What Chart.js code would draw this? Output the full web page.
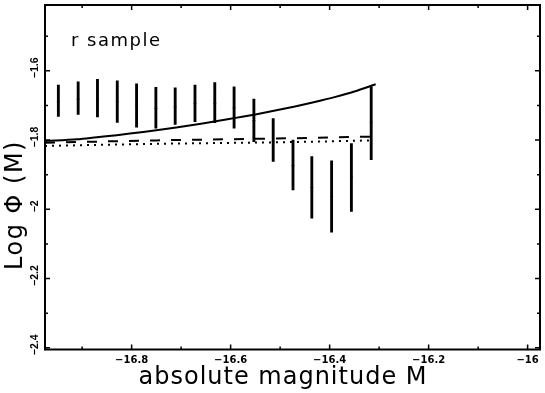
<!DOCTYPE html>
<html>
<head>
<meta charset="utf-8">
<script src="https://cdn.jsdelivr.net/npm/chart.js@4/dist/chart.umd.min.js"></script>
<style>
  html, body { margin: 0; padding: 0; background: #fff; }
  #wrap { width: 545px; height: 393px; }
</style>
</head>
<body>
<div id="wrap"><canvas id="lf"></canvas></div>
<script>
// axis ticks
const X_TICKS = [-16.8, -16.6, -16.4, -16.2, -16];
const X_MINOR = [-16.9, -16.7, -16.5, -16.3, -16.1];
const Y_TICKS = [-2.4, -2.2, -2, -1.8, -1.6];
const Y_MINOR = [-2.3, -2.1, -1.9, -1.7, -1.5];

// data points with error bars
const ERR_X = [-16.948, -16.908, -16.869, -16.829, -16.790, -16.751, -16.712, -16.672, -16.632,
               -16.593, -16.553, -16.514, -16.474, -16.436, -16.396, -16.356, -16.316];
const ERR_MID = [-1.689, -1.682, -1.682, -1.689, -1.701, -1.709, -1.704, -1.694, -1.694,
                 -1.707, -1.744, -1.805, -1.874, -1.937, -1.963, -1.907, -1.749];
const ERR_LO = [-1.732, -1.726, -1.733, -1.749, -1.763, -1.766, -1.755, -1.747, -1.750,
                -1.766, -1.805, -1.862, -1.944, -2.026, -2.066, -2.006, -1.857];
const ERR_HI = [-1.641, -1.632, -1.625, -1.629, -1.638, -1.648, -1.649, -1.641, -1.634,
                -1.646, -1.682, -1.738, -1.800, -1.848, -1.860, -1.810, -1.646];

// model curves
const FIT_X = [-16.975, -16.91, -16.87, -16.83, -16.79, -16.75, -16.71, -16.67, -16.63,
               -16.59, -16.55, -16.51, -16.47, -16.43, -16.39, -16.35, -16.307];
const FIT_Y = [-1.803, -1.798, -1.792, -1.786, -1.779, -1.772, -1.764, -1.755, -1.746,
               -1.736, -1.726, -1.715, -1.703, -1.690, -1.676, -1.660, -1.639];
const DASH_X = [-16.975, -16.75, -16.48, -16.312];
const DASH_Y = [-1.808, -1.801, -1.795, -1.790];
const DOT_X = [-16.975, -16.75, -16.48, -16.312];
const DOT_Y = [-1.817, -1.811, -1.806, -1.801];

const pts = (xs, ys) => xs.map((x, i) => ({ x, y: ys[i] }));
const fmt = v => String(v).replace('-', '\u2212');

const framePlugin = {
  id: 'frame',
  afterDraw(chart) {
    const { ctx, chartArea: a, scales: { x, y } } = chart;
    ctx.save();
    ctx.strokeStyle = '#000';
    ctx.lineWidth = 2;
    ctx.strokeRect(a.left, a.top, a.right - a.left, a.bottom - a.top);

    // inward tick marks on all four sides
    ctx.lineWidth = 1.5;
    ctx.beginPath();
    const xt = (v, len) => {
      const px = x.getPixelForValue(v);
      ctx.moveTo(px, a.bottom); ctx.lineTo(px, a.bottom - len);
      ctx.moveTo(px, a.top); ctx.lineTo(px, a.top + len);
    };
    const yt = (v, len) => {
      const py = y.getPixelForValue(v);
      ctx.moveTo(a.left, py); ctx.lineTo(a.left + len, py);
      ctx.moveTo(a.right, py); ctx.lineTo(a.right - len, py);
    };
    X_TICKS.forEach(v => xt(v, 5));
    X_MINOR.forEach(v => xt(v, 3));
    Y_TICKS.forEach(v => yt(v, 5));
    Y_MINOR.forEach(v => yt(v, 3));
    ctx.stroke();

    // y tick labels, rotated
    ctx.fillStyle = '#000';
    ctx.font = 'bold 10.5px "Liberation Sans"';
    ctx.textAlign = 'center';
    ctx.textBaseline = 'middle';
    Y_TICKS.forEach(v => {
      ctx.save();
      ctx.translate(35, y.getPixelForValue(v) - 3);
      ctx.rotate(-Math.PI / 2);
      ctx.fillText(fmt(v), 0, 0);
      ctx.restore();
    });

    // titles
    ctx.font = '24px "DejaVu Sans"';
    ctx.letterSpacing = '1px';
    ctx.textBaseline = 'middle';
    ctx.fillText('absolute magnitude M', 283, 378);

    ctx.save();
    ctx.letterSpacing = '1.5px';
    ctx.translate(16, 205);
    ctx.rotate(-Math.PI / 2);
    ctx.fillText('Log \u03A6 (M)', 0, 0);
    ctx.restore();

    ctx.font = '18px "DejaVu Sans"';
    ctx.letterSpacing = '1.5px';
    ctx.textAlign = 'left';
    ctx.textBaseline = 'alphabetic';
    ctx.fillText('r sample', 71, 46);
    ctx.restore();
  }
};

new Chart(document.getElementById('lf'), {
  type: 'scatter',
  data: {
    datasets: [
      {
        type: 'bar',
        data: ERR_X.map((x, i) => ({ x, y: [ERR_LO[i], ERR_HI[i]] })),
        backgroundColor: '#000',
        barThickness: 2.2,
        grouped: false
      },
      {
        data: pts(ERR_X, ERR_MID),
        pointStyle: 'line',
        pointRadius: 1.5,
        borderColor: '#444',
        borderWidth: 1
      },
      {
        data: pts(FIT_X, FIT_Y),
        showLine: true,
        borderColor: '#000',
        borderWidth: 2,
        pointRadius: 0,
        cubicInterpolationMode: 'monotone'
      },
      {
        data: pts(DASH_X, DASH_Y),
        showLine: true,
        borderColor: '#000',
        borderWidth: 2,
        borderDash: [10, 11],
        pointRadius: 0,
        cubicInterpolationMode: 'monotone'
      },
      {
        data: pts(DOT_X, DOT_Y),
        showLine: true,
        borderColor: '#000',
        borderWidth: 2,
        borderDash: [2, 5],
        pointRadius: 0,
        cubicInterpolationMode: 'monotone'
      }
    ]
  },
  options: {
    responsive: true,
    maintainAspectRatio: false,
    animation: false,
    layout: { padding: { top: 3, right: 2 } },
    plugins: {
      legend: { display: false },
      tooltip: { enabled: false }
    },
    scales: {
      x: {
        type: 'linear',
        min: -16.975,
        max: -15.975,
        offset: false,
        grid: { display: false, drawTicks: false },
        border: { display: false },
        afterBuildTicks: s => { s.ticks = X_TICKS.map(value => ({ value })); },
        afterFit: s => { s.height = 43.5; },
        ticks: {
          color: '#000',
          padding: 5,
          maxRotation: 0,
          autoSkip: false,
          font: { family: '"DejaVu Sans"', weight: 'bold', size: 10 },
          callback: v => fmt(v)
        }
      },
      y: {
        min: -2.405,
        max: -1.41,
        grid: { display: false },
        border: { display: false },
        ticks: { display: false },
        afterFit: s => { s.width = 45; }
      }
    }
  },
  plugins: [framePlugin]
});
</script>
</body>
</html>
